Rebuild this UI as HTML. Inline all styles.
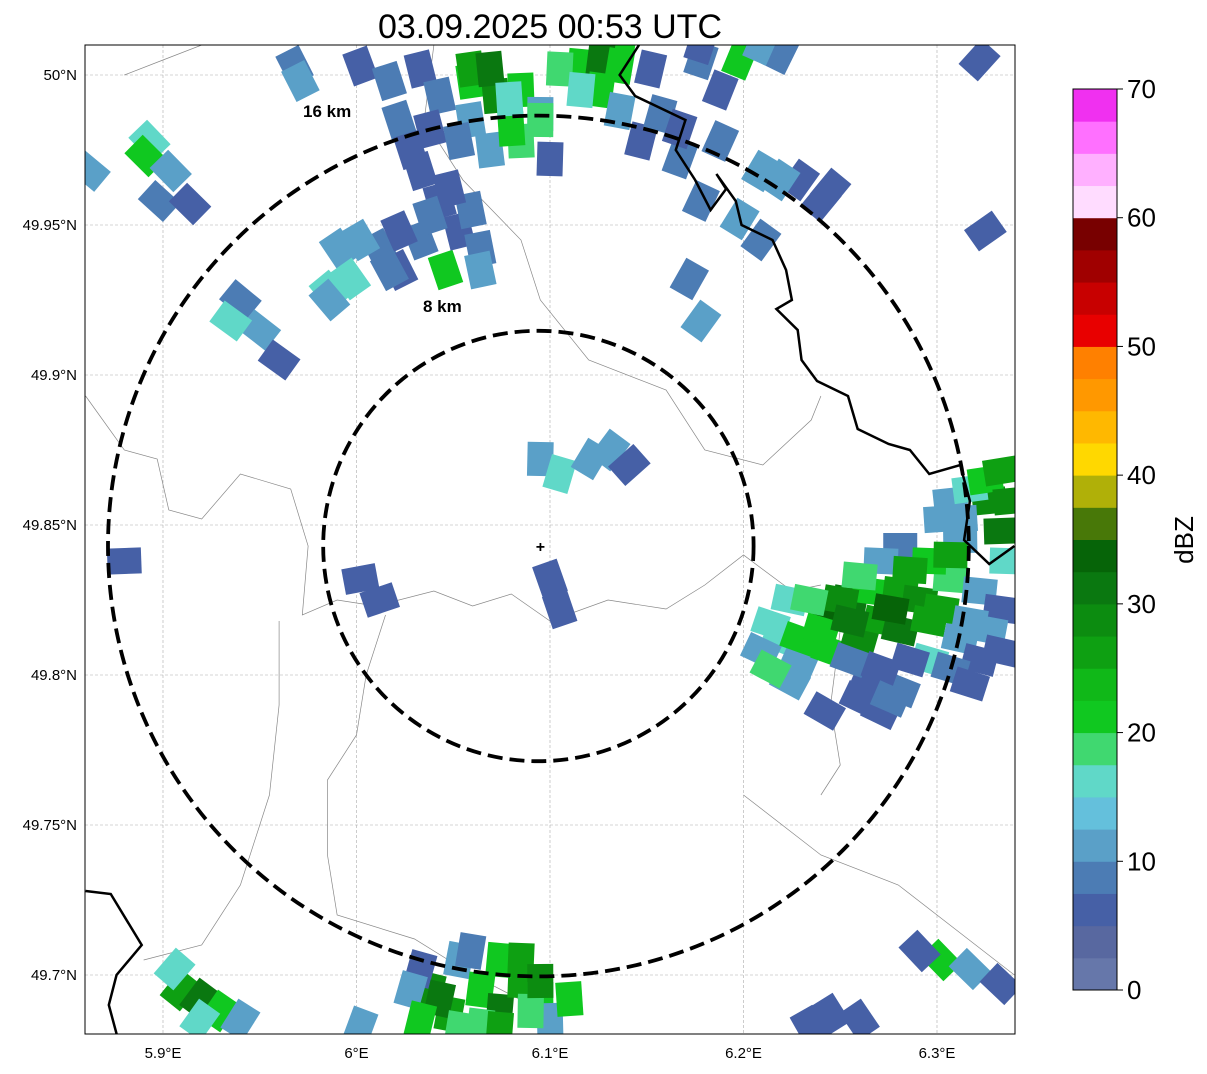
<!DOCTYPE html>
<html><head><meta charset="utf-8"><style>
body{margin:0;background:#fff;font-family:"Liberation Sans",sans-serif}
svg text{font-family:"Liberation Sans",sans-serif}
</style></head><body>
<svg id="chart" width="1207" height="1069" xmlns="http://www.w3.org/2000/svg">
<text x="550" y="38" font-size="34" text-anchor="middle">03.09.2025 00:53 UTC</text>
<defs><clipPath id="pc"><rect x="85" y="45" width="930" height="989"/></clipPath></defs>
<g id="grid"></g>
<g id="thin" clip-path="url(#pc)"></g>
<g id="cells" clip-path="url(#pc)"></g>
<g id="thick" clip-path="url(#pc)"></g>
<g id="rings" clip-path="url(#pc)"></g>
<rect x="85" y="45" width="930" height="989" fill="none" stroke="#000" stroke-width="1"/>
<g id="axes"></g>
<g id="cbar"></g>
</svg>
<script>
const lonTicks=[5.9,6.0,6.1,6.2,6.3];
const lonLabels=["5.9°E","6°E","6.1°E","6.2°E","6.3°E"];
const latTicks=[50.0,49.95,49.9,49.85,49.8,49.75,49.7];
const latLabels=["50°N","49.95°N","49.9°N","49.85°N","49.8°N","49.75°N","49.7°N"];
const cbTicks=[0,10,20,30,40,50,60,70];
const cbColors=["#6677aa","#5868a0","#4660a6","#4c7cb4","#5aa0c8","#64c0dc","#60d8c8","#40d870","#10c820","#10b818","#0ea012","#0c8c10","#0a7810","#066408","#487808","#b0b008","#ffd800","#ffb800","#ff9800","#ff8000","#e80000","#c80000","#a00000","#780000","#ffdcff","#ffb0ff","#ff70ff","#f030f0"];
const radarLon=6.094, radarLat=49.843;
const ringKm=[8,16];
const cellLon=[5.968,5.971,6.002,6.017,6.033,6.043,6.059,6.072,6.085,6.059,6.038,6.022,6.028,6.085,6.095,6.100,6.069,
6.116,6.126,6.136,6.152,6.178,6.198,6.219,6.188,
6.147,6.167,6.178,6.198,6.209,6.229,6.240,6.209,6.172,6.178,6.322,6.325,
5.893,5.891,5.904,5.898,5.914,5.862,5.940,5.950,5.960,5.935,
5.991,5.986,6.012,6.022,6.033,6.046,6.053,6.064,6.043,6.059,5.880,
6.095,6.105,6.121,6.131,6.141,6.002,6.012,6.100,6.105,
6.307,6.327,6.333,6.317,6.224,6.245,6.255,6.265,6.281,6.291,6.307,6.322,6.333,
6.219,6.229,6.245,6.260,6.271,6.281,6.296,6.312,6.322,6.224,6.265,6.281,6.271,6.296,6.242,
6.302,6.317,6.333,6.291,6.245,6.260,6.234,
5.909,5.919,5.929,5.940,5.919,5.906,6.002,
6.038,6.053,6.064,6.074,6.085,6.095,6.048,6.064,6.033,6.100,6.090,
6.302,6.312,6.336,6.281,6.271,6.260,6.296,6.307,6.286,6.250,6.234,6.214,6.209,6.214,6.229,6.240,6.255,6.276,6.302,6.317,6.327,6.333,6.255,6.271,6.286,6.307,6.317,6.260,6.276,
6.325,6.333,6.338,6.312,
6.105,6.126,6.136,6.126,6.095,6.080,6.059,6.069,6.079,6.053,6.033,6.116,6.136,6.157,6.167,6.188,6.219,6.245,6.198,6.178,6.209,
5.986,6.002,6.022,6.048,6.038,6.064,5.997,6.017,
6.059,6.074,6.085,6.095,6.110,6.043,6.028,6.074,6.053,6.033];
const cellLat=[50.003,49.998,50.003,49.998,50.002,49.993,49.998,49.993,49.995,49.985,49.982,49.985,49.975,49.978,49.987,49.972,49.975,
50.003,50.002,50.005,50.002,50.005,50.005,50.007,49.995,
49.978,49.972,49.958,49.952,49.968,49.965,49.958,49.945,49.932,49.918,50.005,49.948,
49.978,49.973,49.968,49.958,49.957,49.968,49.925,49.915,49.905,49.918,
49.942,49.928,49.942,49.935,49.945,49.935,49.948,49.942,49.958,49.955,49.838,
49.872,49.867,49.872,49.875,49.870,49.832,49.825,49.832,49.822,
49.858,49.858,49.848,49.862,49.825,49.822,49.825,49.828,49.828,49.825,49.832,49.828,49.822,
49.812,49.805,49.808,49.812,49.818,49.815,49.818,49.812,49.805,49.798,49.798,49.795,49.788,49.805,49.788,
49.705,49.702,49.697,49.708,49.687,49.685,49.683,
49.695,49.692,49.688,49.685,49.685,49.702,49.683,
49.695,49.705,49.695,49.688,49.698,49.692,49.687,49.683,49.702,49.685,49.688,
49.852,49.845,49.838,49.843,49.838,49.833,49.838,49.840,49.835,49.825,49.825,49.817,49.808,49.802,49.812,49.815,49.818,49.822,49.822,49.818,49.815,49.808,49.805,49.802,49.805,49.802,49.797,49.792,49.792,
49.865,49.868,49.858,49.852,
50.002,50.005,50.003,49.995,49.985,49.982,50.002,50.002,49.992,49.978,49.968,49.995,49.988,49.987,49.982,49.978,49.965,49.962,50.005,50.010,50.010,
49.925,49.945,49.948,49.962,49.953,49.935,49.932,49.935,
49.708,49.705,49.705,49.698,49.692,49.692,49.695,49.682,49.682,49.685];
const cellVal=[8,12,5,8,5,8,22,28,20,10,5,8,5,18,12,5,10,
20,32,20,5,8,15,8,5,
5,8,8,12,10,5,5,8,8,10,5,5,
15,20,12,8,5,10,8,10,5,15,
10,15,8,5,8,22,5,8,5,8,5,
10,15,10,12,5,5,5,5,5,
10,28,30,15,15,33,30,22,26,28,18,10,5,
15,12,22,28,25,30,25,10,5,12,5,8,5,15,5,
20,12,5,5,5,5,5,
25,30,20,12,15,17,10,
28,10,22,30,25,20,25,18,5,10,18,
12,10,15,8,12,18,22,25,25,28,18,15,12,18,22,20,30,33,25,12,10,5,8,5,5,8,5,5,8,
22,25,28,12,
18,30,20,22,18,20,25,30,15,8,5,15,12,8,5,8,12,5,20,5,12,
12,12,5,5,8,10,15,8,
8,20,25,28,20,30,12,25,18,22];
const borderLon=[6.146,6.136,6.144,6.170,6.165,6.175,6.183,6.191,6.186,6.196,6.199,6.215,6.222,6.225,6.217,6.228,6.230,6.238,6.254,6.259,6.275,6.286,6.296,6.312,6.317,6.314,6.327,6.340];
const borderLat=[50.010,50.000,49.993,49.985,49.975,49.965,49.955,49.962,49.967,49.958,49.950,49.945,49.935,49.925,49.922,49.915,49.905,49.898,49.893,49.882,49.877,49.875,49.867,49.870,49.858,49.845,49.837,49.843];
const border2Lon=[5.860,5.873,5.889,5.876,5.872,5.877];
const border2Lat=[49.728,49.727,49.710,49.700,49.690,49.678];
const thinLines=[
 [[5.860,49.893],[5.880,49.875],[5.897,49.872],[5.903,49.855],[5.920,49.852],[5.940,49.867],[5.966,49.862],[5.975,49.843],[5.972,49.820],[5.990,49.825],[6.010,49.823],[6.040,49.828],[6.060,49.823],[6.080,49.827],[6.100,49.818],[6.130,49.825],[6.160,49.822],[6.180,49.830],[6.200,49.840],[6.225,49.828],[6.240,49.830]],
 [[6.040,50.010],[6.035,49.985],[6.055,49.965],[6.085,49.945],[6.095,49.925],[6.120,49.905],[6.160,49.895],[6.180,49.875],[6.210,49.870],[6.235,49.885],[6.240,49.893]],
 [[6.015,49.820],[6.005,49.800],[6.000,49.780],[5.985,49.765],[5.985,49.740],[5.990,49.720],[6.030,49.712],[6.060,49.700],[6.090,49.690],[6.110,49.678]],
 [[5.960,49.818],[5.960,49.790],[5.955,49.760],[5.940,49.730],[5.920,49.710],[5.890,49.705]],
 [[6.200,49.760],[6.240,49.740],[6.280,49.730],[6.320,49.710],[6.340,49.700]],
 [[5.880,50.000],[5.900,50.005],[5.920,50.010]],
 [[6.250,49.815],[6.245,49.790],[6.250,49.770],[6.240,49.760]]
];
const X0=163,PXLON=1935,Y0=75,PXLAT=3000;
function xs(lon){return X0+(lon-5.9)*PXLON;}
function ys(lat){return Y0+(50-lat)*PXLAT;}
function col(v){let i=Math.floor(v/2.5);if(i<0)i=0;if(i>27)i=27;return cbColors[i];}
const NS="http://www.w3.org/2000/svg";
function mk(t,a,p){const e=document.createElementNS(NS,t);for(const k in a)e.setAttribute(k,a[k]);p.appendChild(e);return e;}
const grid=document.getElementById('grid'),axes=document.getElementById('axes');
lonTicks.forEach((t,i)=>{const x=xs(t);
 const l=mk('line',{x1:x,x2:x,y1:45,y2:1034,stroke:'#aaa','stroke-width':0.6,'stroke-dasharray':'3,2'},grid);
 
 const tx=mk('text',{x:x,y:1058,'font-size':15,'text-anchor':'middle'},axes);tx.textContent=lonLabels[i];
 });
latTicks.forEach((t,i)=>{const y=ys(t);
 const l=mk('line',{x1:85,x2:1015,y1:y,y2:y,stroke:'#aaa','stroke-width':0.6,'stroke-dasharray':'3,2'},grid);
 
 const tx=mk('text',{x:77,y:y+5,'font-size':15,'text-anchor':'end'},axes);tx.textContent=latLabels[i];
 });
const thin=document.getElementById('thin');
thinLines.forEach(ln=>{const p=mk('polyline',{points:ln.map(q=>xs(q[0])+','+ys(q[1])).join(' '),fill:'none',stroke:'#888','stroke-width':0.7},thin);
 });
const cells=document.getElementById('cells');
const cx0=xs(radarLon),cy0=ys(radarLat);
cellLon.forEach((lo,i)=>{const x=xs(lo),y=ys(cellLat[i]);
 const ang=Math.atan2(y-cy0,x-cx0)*180/Math.PI+90;
 const r=mk('rect',{x:x-13,y:y-17,width:26,height:34,fill:col(cellVal[i]),transform:`rotate(${ang.toFixed(1)} ${x} ${y})`},cells);
 });
const thick=document.getElementById('thick');
[[borderLon,borderLat],[border2Lon,border2Lat]].forEach(b=>{
 const p=mk('polyline',{points:b[0].map((lo,i)=>xs(lo)+','+ys(b[1][i])).join(' '),fill:'none',stroke:'#000','stroke-width':2.5},thick);
 });
const rings=document.getElementById('rings');
const PXKM=26.9;
const ringLabelPos=[[423,312],[303,117]];
ringKm.forEach((k,i)=>{const c=mk('circle',{cx:cx0,cy:cy0,r:k*PXKM,fill:'none',stroke:'#000','stroke-width':3.8,'stroke-dasharray':'15,7'},rings);
 
 const t=mk('text',{x:ringLabelPos[i][0],y:ringLabelPos[i][1],'font-size':17,'font-weight':'bold'},rings);
 t.textContent=k+' km';});
const pl=mk('text',{x:cx0+2,y:cy0+6,'font-size':16,'font-weight':'bold','text-anchor':'middle'},rings);pl.textContent='+';

const cb=document.getElementById('cbar');
const CBT=89,CBB=990,CBL=1073,CBW=44;
function cy(v){return CBB-(v/70)*(CBB-CBT);}
cbColors.forEach((c,i)=>{const r=mk('rect',{x:CBL,y:cy((i+1)*2.5),width:CBW,height:(CBB-CBT)/28+0.5,fill:c},cb);
 });
mk('rect',{x:CBL,y:CBT,width:CBW,height:CBB-CBT,fill:'none',stroke:'#000','stroke-width':1},cb);
cbTicks.forEach(v=>{const y=cy(v);mk('line',{x1:CBL+CBW,x2:CBL+CBW+6,y1:y,y2:y,stroke:'#000'},cb);
 const t=mk('text',{x:CBL+CBW+10,y:y+9,'font-size':26},cb);t.textContent=v;
 });
const cl=mk('text',{x:1193,y:540,'font-size':26,'text-anchor':'middle',transform:'rotate(-90 1193 540)'},cb);cl.textContent='dBZ';

</script>
</body></html>
